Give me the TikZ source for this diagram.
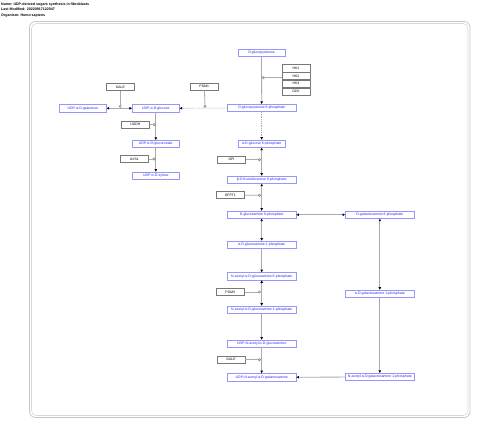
\documentclass[tikz,border=0pt]{standalone}
\usepackage{fontspec}
\setmainfont{Liberation Sans}
\usetikzlibrary{arrows.meta}
\definecolor{metb}{RGB}{150,150,255}
\definecolor{mett}{RGB}{40,40,235}
\definecolor{ln}{RGB}{170,170,170}
\definecolor{frame}{RGB}{200,200,200}
\definecolor{geneb}{RGB}{120,120,120}
\begin{document}
\begin{tikzpicture}[x=1pt,y=-1pt,
  met/.style={draw=metb,text=mett,fill=white,line width=0.6pt,inner sep=0pt,minimum height=7.3pt,minimum width=68.7pt,font=\fontsize{3.5}{4}\selectfont},
  metS/.style={met,minimum width=47pt},
  gene/.style={draw=geneb,fill=white,line width=0.45pt,inner sep=0pt,minimum height=7.4pt,minimum width=28pt,font=\fontsize{3.4}{4}\selectfont},
  rx/.style={draw=ln,line width=0.8pt,>={Triangle[color=black,length=2.6pt,width=2.4pt]}},
  dsh/.style={rx,line width=0.6pt,dash pattern=on 1pt off 0.8pt},
  catl/.style={draw=ln,line width=0.8pt},
  catc/.style={circle,draw=gray,fill=white,inner sep=0pt,minimum size=2.4pt,line width=0.5pt}]
\useasboundingbox (0,0) rectangle (480,427);
% frame
\draw[frame,line width=0.8pt,rounded corners=6pt] (29.5,21.5) rectangle (470,417.5);
\draw[frame!70,line width=0.6pt,rounded corners=5pt] (31.5,23.5) rectangle (468,415.5);
% title
\node[anchor=north west,inner sep=0pt,align=left,font=\bfseries\fontsize{3.6}{5.5}\selectfont] (title) at (1,2.5)
  {Name: UDP-derived sugars synthesis in fibroblasts\\Last Modified: 20220917122047\\Organism: Homo sapiens};
% metabolites
\node[metS] (glc) at (261.5,53) {D-glucopyranose};
\node[met] (g6p) at (261.7,108) {D-glucopyranose 6-phosphate};
\node[metS] (udpglc) at (155.8,108.3) {UDP-α-D-glucose};
\node[metS] (udpgal) at (82.8,108.3) {UDP-α-D-galactose};
\node[metS] (udpglca) at (155.8,144) {UDP-α-D-glucuronate};
\node[metS] (udpxyl) at (155.8,175.7) {UDP-α-D-xylose};
\node[metS] (ag6p) at (261.7,143.7) {α-D-glucose 6-phosphate};
\node[met] (f6p) at (261.7,179.7) {β-D-fructofuranose 6-phosphate};
\node[met] (gln6p) at (261.7,214.7) {D-glucosamine 6-phosphate};
\node[met] (gal6p) at (379.8,214.7) {D-galactosamine 6-phosphate};
\node[met] (gln1p) at (261.7,244.7) {α-D-glucosamine 1-phosphate};
\node[met] (nag6p) at (261.7,276.3) {N-acetyl-α-D-glucosamine 6-phosphate};
\node[met] (nag1p) at (261.7,309.7) {N-acetyl-α-D-glucosamine 1-phosphate};
\node[met] (udpglcnac) at (261.7,343.7) {UDP-N-acetyl-α-D-glucosamine};
\node[met] (udpgalnac) at (261.7,377.3) {UDP-N-acetyl-α-D-galactosamine};
\node[met] (gal1p) at (379.8,293.7) {α-D-galactosamine 1-phosphate};
\node[met] (nagal1p) at (379.8,377) {N-acetyl-α-D-galactosamine 1-phosphate};
% genes
\node[gene] (hk1) at (296,68.3) {HK1};
\node[gene] (hk2) at (296,76) {HK2};
\node[gene] (hk3) at (296,83.7) {HK3};
\node[gene] (gck) at (296,91.5) {GCK};
\node[gene] (pgm1) at (204.3,86.5) {PGM1};
\node[gene] (galea) at (120.3,87) {GALE};
\node[gene] (ugdh) at (135.3,124.7) {UGDH};
\node[gene] (uxs1) at (134.3,159) {UXS1};
\node[gene] (gpi) at (231.5,159.7) {GPI};
\node[gene] (gfpt1) at (230.3,195) {GFPT1};
\node[gene] (pgm3) at (230.3,292) {PGM3};
\node[gene] (galeb) at (231,359.7) {GALE};
% reactions
\draw[rx,->] (glc) -- (g6p);
\draw[dsh,->] (g6p) -- (udpglc);
\draw[dsh,->] (g6p) -- (ag6p);
\draw[rx,<->] (udpgal) -- (udpglc);
\draw[rx,->] (udpglc) -- (udpglca);
\draw[rx,->] (udpglca) -- (udpxyl);
\draw[rx,<->] (ag6p) -- (f6p);
\draw[rx,<->] (f6p) -- (gln6p);
\draw[rx,<->] (gln6p) -- (gal6p);
\draw[rx,<->] (gln6p) -- (gln1p);
\draw[rx,->] (gln1p) -- (nag6p);
\draw[rx,<->] (nag6p) -- (nag1p);
\draw[rx,->] (nag1p) -- (udpglcnac);
\draw[rx,->] (udpglcnac) -- (udpgalnac);
\draw[rx,<->] (gal6p) -- (gal1p);
\draw[rx,->] (gal1p) -- (nagal1p);
\draw[rx,->] (nagal1p) -- (udpgalnac);
% catalysis
\node[catc] (chk) at (263.3,77.7) {};
\node[catc] (cpgm1) at (205,106.4) {};
\node[catc] (cgalea) at (120.3,106.4) {};
\node[catc] (cugdh) at (154,124.7) {};
\node[catc] (cuxs1) at (154,159) {};
\node[catc] (cgpi) at (259.4,159.7) {};
\node[catc] (cgfpt1) at (259.4,195.3) {};
\node[catc] (cpgm3) at (259.4,292) {};
\node[catc] (cgaleb) at (259.4,359.7) {};
\draw[catl] (hk2.west |- chk) -- (chk);
\draw[catl] (pgm1) -- (cpgm1);
\draw[catl] (galea) -- (cgalea);
\draw[catl] (ugdh) -- (cugdh);
\draw[catl] (uxs1) -- (cuxs1);
\draw[catl] (gpi) -- (cgpi);
\draw[catl] (gfpt1) -- (cgfpt1);
\draw[catl] (pgm3) -- (cpgm3);
\draw[catl] (galeb) -- (cgaleb);
\end{tikzpicture}
\end{document}
